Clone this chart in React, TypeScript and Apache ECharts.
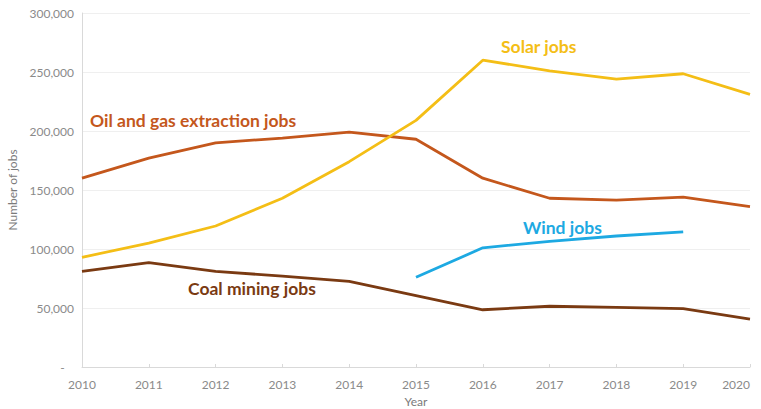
import React, { useEffect, useRef } from "react";
import * as echarts from "echarts";

const years = ["2010", "2011", "2012", "2013", "2014", "2015", "2016", "2017", "2018", "2019", "2020"];
const solarJobs = [93000, 105000, 119500, 143000, 174000, 209000, 260000, 251000, 244000, 248500, 231000];
const oilGasJobs = [160000, 177000, 190000, 194000, 199000, 193000, 160000, 143000, 141500, 144000, 136000];
const windJobs = [null, null, null, null, null, 76000, 101000, 106500, 111000, 114500, null];
const coalJobs = [81000, 88500, 81000, 77000, 72500, 60500, 48500, 51500, 50500, 49500, 40500];

const SOLAR = "#F4BE16";
const OIL = "#C4571C";
const WIND = "#1DA9E2";
const COAL = "#7A3A12";
const FONT = "Lato, 'Open Sans', sans-serif";

export default function App() {
  const ref = useRef<HTMLDivElement>(null);
  useEffect(() => {
    if (!ref.current) return;
    const chart = echarts.init(ref.current, null, { renderer: "svg" });
    const lineSeries = (name: string, data: any[], color: string) => ({
      name,
      type: "line",
      data,
      symbol: "none",
      connectNulls: false,
      lineStyle: { color, width: 2.8 },
      itemStyle: { color },
    });
    chart.setOption({
      animation: false,
      backgroundColor: "#ffffff",
      grid: { left: 82, right: 11, top: 13, bottom: 42, containLabel: false, outerBoundsMode: "none" },
      xAxis: {
        type: "category",
        data: years,
        boundaryGap: false,
        name: "Year",
        nameLocation: "middle",
        nameGap: 28,
        nameTextStyle: { color: "#7a7a7a", fontSize: 12, fontFamily: FONT },
        axisLine: { lineStyle: { color: "#d9d9d9", width: 1 } },
        axisTick: { show: true, inside: true, length: 3, lineStyle: { color: "#d9d9d9" } },
        axisLabel: { color: "#8a8a8a", fontSize: 12, fontFamily: FONT, margin: 11, alignMaxLabel: "right" },
        splitLine: { show: false },
      },
      yAxis: {
        type: "value",
        min: 0,
        max: 300000,
        interval: 50000,
        name: "Number of jobs",
        nameLocation: "middle",
        nameGap: 62,
        nameRotate: 90,
        nameTextStyle: { color: "#7a7a7a", fontSize: 12, fontFamily: FONT },
        axisLine: { show: true, lineStyle: { color: "#d9d9d9", width: 1 } },
        axisTick: { show: false },
        axisLabel: {
          color: "#8a8a8a",
          fontSize: 12,
          fontFamily: FONT,
          margin: 8,
          formatter: (v: number) => (v === 0 ? "-   " : v.toLocaleString("en-US")),
        },
        splitLine: { show: true, lineStyle: { color: "#efefef", width: 1 } },
      },
      series: [
        lineSeries("Coal mining jobs", coalJobs, COAL),
        lineSeries("Oil and gas extraction jobs", oilGasJobs, OIL),
        lineSeries("Solar jobs", solarJobs, SOLAR),
        lineSeries("Wind jobs", windJobs, WIND),
      ],
      graphic: [
        { type: "text", left: 501, top: 37, style: { text: "Solar jobs", fill: SOLAR, font: `bold 17.5px ${FONT}` } },
        { type: "text", left: 90, top: 111, style: { text: "Oil and gas extraction jobs", fill: OIL, font: `bold 17.5px ${FONT}` } },
        { type: "text", left: 523, top: 218, style: { text: "Wind jobs", fill: WIND, font: `bold 17.5px ${FONT}` } },
        { type: "text", left: 188, top: 279, style: { text: "Coal mining jobs", fill: COAL, font: `bold 17.5px ${FONT}` } },
      ],
    });
    return () => chart.dispose();
  }, []);
  return (
    <div
      ref={ref}
      style={{ position: "fixed", left: 0, top: 0, width: 761, height: 409 }}
    />
  );
}
